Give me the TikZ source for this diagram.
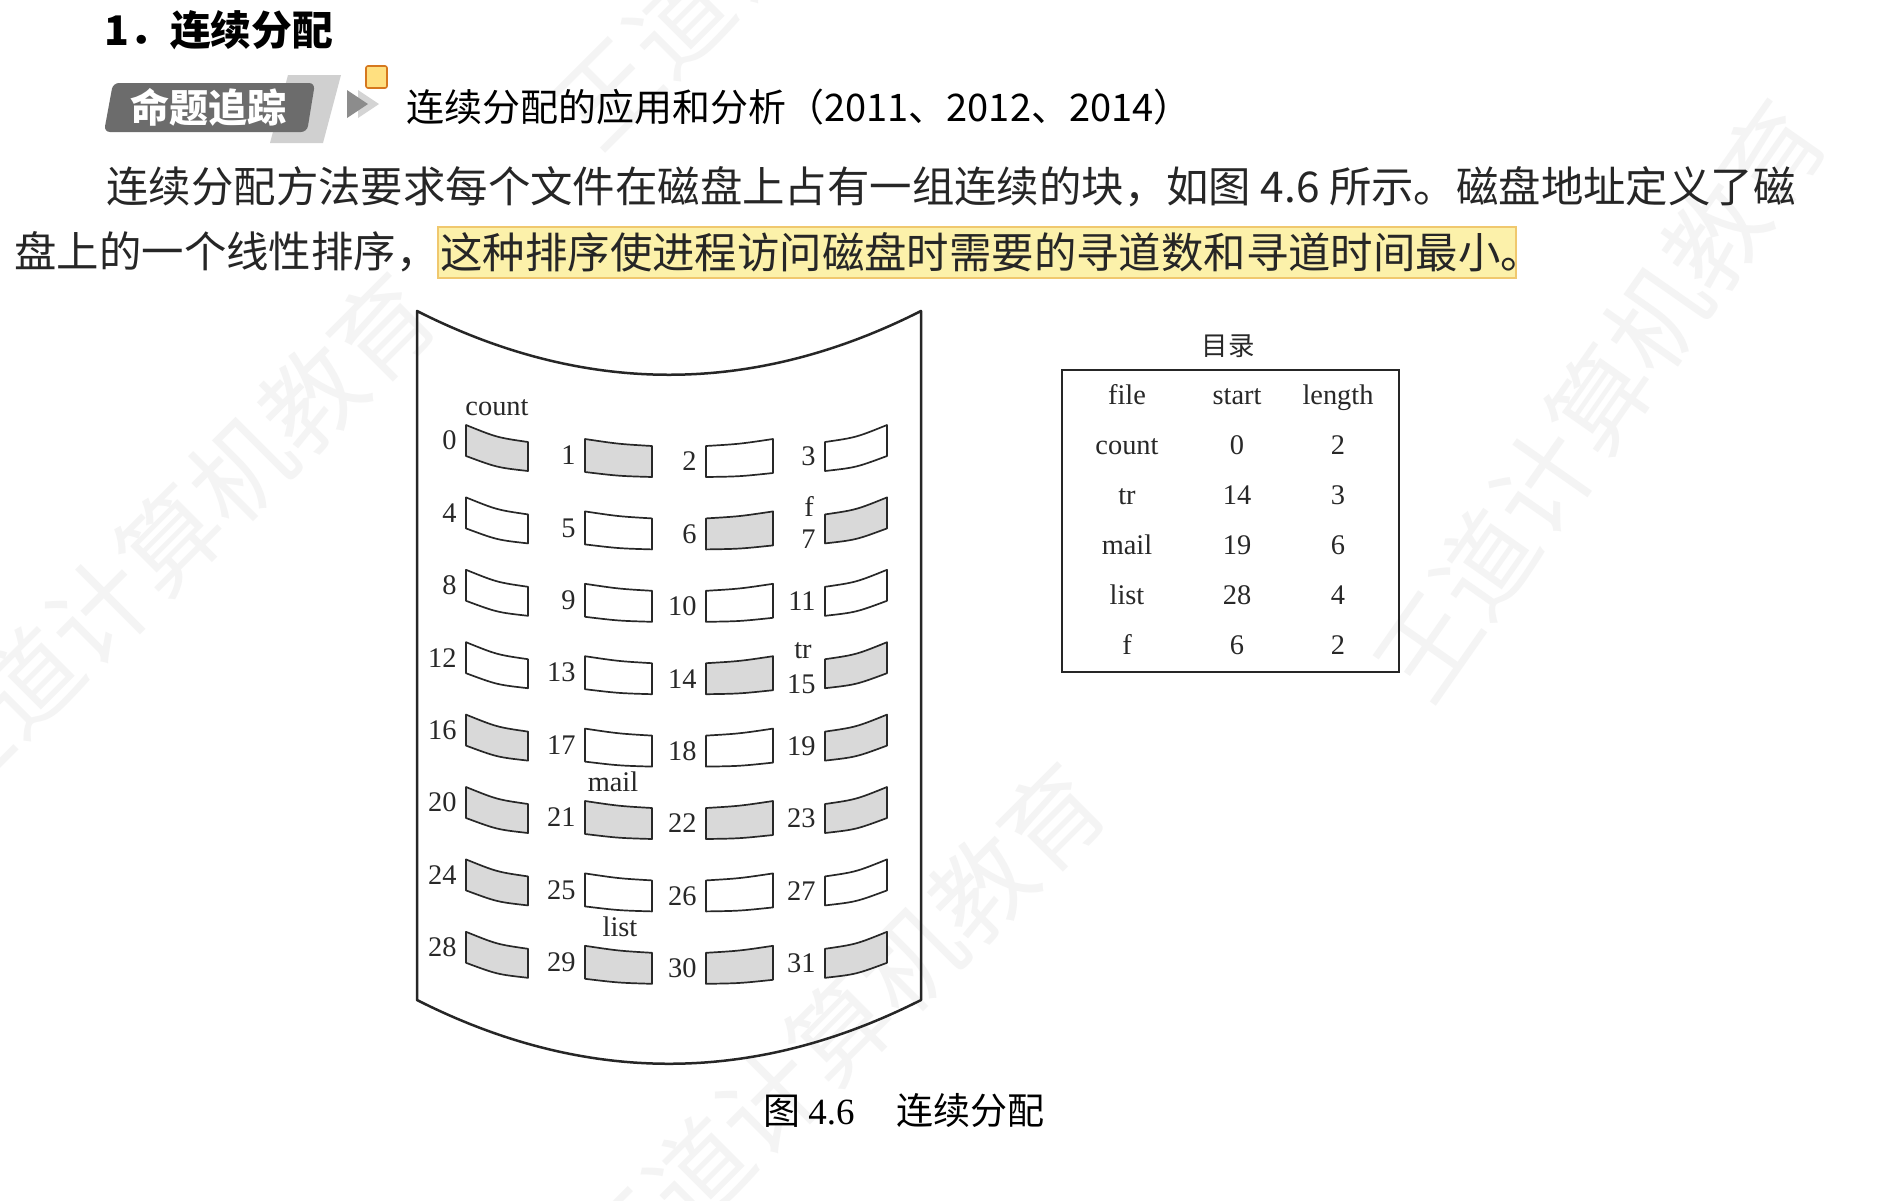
\documentclass[tikz,border=0pt]{standalone}
\usepackage{fontspec}
\setmainfont{Liberation Serif}
\newfontfamily\cjk{Noto Sans CJK SC}
\definecolor{blkgray}{RGB}{217,217,217}
\definecolor{badgegray}{RGB}{108,108,108}
\definecolor{stripegray}{RGB}{208,208,208}
\definecolor{trigray}{RGB}{140,140,140}
\definecolor{trilight}{RGB}{212,212,212}
\definecolor{sqfill}{RGB}{255,224,128}
\definecolor{sqdraw}{RGB}{214,120,30}
\definecolor{hlfill}{RGB}{252,241,170}
\definecolor{hldraw}{RGB}{240,200,110}
\definecolor{wmgray}{RGB}{244,244,244}
\definecolor{inkgray}{RGB}{40,40,40}
\begin{document}
\begin{tikzpicture}[x=0.5pt,y=-0.5pt,
  blk/.style={draw=inkgray,line width=0.85pt,line join=round},
  num/.style={inner sep=0pt,font=\fontsize{14.2}{14.2}\selectfont,text=inkgray},
  fname/.style={inner sep=0pt,font=\fontsize{14.2}{14.2}\selectfont,text=inkgray},
  cell/.style={inner sep=0pt,font=\fontsize{14.2}{14.2}\selectfont,text=inkgray},
  para/.style={inner sep=0pt,anchor=west,font=\cjk\fontsize{21.2}{21.2}\selectfont,text=black!85},
  wm/.style={inner sep=0pt,font=\cjk\fontsize{50}{50}\selectfont,text=wmgray}]
\useasboundingbox (0,0) rectangle (1894,1200);
\fill[white] (0,0) rectangle (1894,1200);

% faint watermarks
\node[wm,rotate=45] (wm1) at (170,540) {王道计算机教育};
\node[wm,rotate=45] (wm2) at (840,1030) {王道计算机教育};
\node[wm,rotate=55] (wm3) at (1600,400) {王道计算机教育};
\node[wm,rotate=45] (wm4) at (820,-120) {王道计算机教育};

% heading
\node[anchor=west,inner sep=0pt,font=\cjk\bfseries\fontsize{20.4}{20.4}\selectfont] (head) at (104,30) {1．连续分配};

% badge
\fill[stripegray] (288,75) -- (341,75) -- (323,143) -- (270,143) -- cycle;
\fill[badgegray,rounded corners=3pt] (113,83) -- (315,83) -- (307,132) -- (104,132) -- cycle;
\node[inner sep=0pt,text=white,font=\cjk\bfseries\fontsize{19.5}{19.5}\selectfont] (badge) at (208,107) {命题追踪};
\fill[trilight] (358,90) -- (379,104) -- (358,118) -- cycle;
\fill[trigray] (347,90) -- (368,104) -- (347,118) -- cycle;
\draw[sqdraw,fill=sqfill,line width=0.8pt,rounded corners=1pt] (366,66) rectangle (387,88);
\node[anchor=west,inner sep=0pt,font=\cjk\fontsize{19}{19}\selectfont] (title) at (406,107) {连续分配的应用和分析（2011、2012、2014）};

% paragraph
\node[para] (p1) at (106,187) {连续分配方法要求每个文件在磁盘上占有一组连续的块，如图 4.6 所示。磁盘地址定义了磁};
\draw[hldraw,fill=hlfill,line width=0.6pt] (438,227) rectangle (1516,278);
\node[para] (p2) at (14,252) {盘上的一个线性排序，};
\node[para] (p3) at (440,252) {这种排序使进程访问磁盘时需要的寻道数和寻道时间最小。};

% disk outline
\draw[line width=1.25pt,draw=black!85,line join=round]
  (417,311) .. controls (585,396) and (753,396) .. (921,311)
  -- (921,1000) .. controls (753,1085) and (585,1085) .. (417,1000) -- cycle;

% blocks
\foreach \r in {0,...,7}{
  \foreach \c/\xl/\xr/\ta/\tb/\ba/\bb/\bd in {0/466/528/0/17/31/46/4,1/585/652/14/21/47/52/1.5,2/706/773/21/14/52/48/1.5,3/825/887/17/0/46/31/4}{
    \pgfmathsetmacro\yy{425+72.4*\r}
    \pgfmathtruncatemacro\n{4*\r+\c}
    \pgfmathtruncatemacro\g{{1,1,0,0,0,0,1,1,0,0,0,0,0,0,1,1,1,0,0,1,1,1,1,1,1,0,0,0,1,1,1,1}[\n]}
    \ifnum\g=1 \def\fc{blkgray}\else\def\fc{white}\fi
    \draw[blk,fill=\fc] (\xl,\yy+\ta) .. controls ({(\xl+\xr)/2},{\yy+(\ta+\tb)/2+\bd}) .. (\xr,\yy+\tb)
      -- (\xr,\yy+\bb) .. controls ({(\xl+\xr)/2},{\yy+(\ba+\bb)/2+\bd}) .. (\xl,\yy+\ba) -- cycle;
    \pgfmathsetmacro\ly{(\n==7||\n==15) ? \yy+42 : \yy+(\ta+\ba)/2}
    \node[num,anchor=east] (n\n) at (\xl-9,\ly) {\n};
  }
}

% file names on the disk
\node[fname,anchor=base] (lcount) at (497,415) {count};
\node[fname] (lf) at (809,506) {f};
\node[fname] (ltr) at (803,651) {tr};
\node[fname,anchor=base] (lmail) at (613,791) {mail};
\node[fname,anchor=base] (llist) at (620,936) {list};

% directory table
\node[inner sep=0pt,font=\cjk\fontsize{13.2}{13.2}\selectfont,text=inkgray] (dir) at (1228,346) {目录};
\draw[line width=1.35pt,draw=black!85] (1062,370) rectangle (1399,672);
\foreach \f/\s/\l [count=\i from 0] in {file/start/length,count/0/2,tr/14/3,mail/19/6,list/28/4,f/6/2}{
  \pgfmathsetmacro\ry{399+50*\i}
  \node[cell] (tf\i) at (1127,\ry) {\strut\f};
  \node[cell] (ts\i) at (1237,\ry) {\strut\s};
  \node[cell] (tl\i) at (1338,\ry) {\strut\l};
}

% caption
\node[anchor=west,inner sep=0pt,font=\fontsize{18.5}{18.5}\selectfont] (cap) at (763,1110)
  {{\cjk 图}\hspace{4pt}4.6\hspace{21pt}{\cjk 连续分配}};
\end{tikzpicture}
\end{document}
